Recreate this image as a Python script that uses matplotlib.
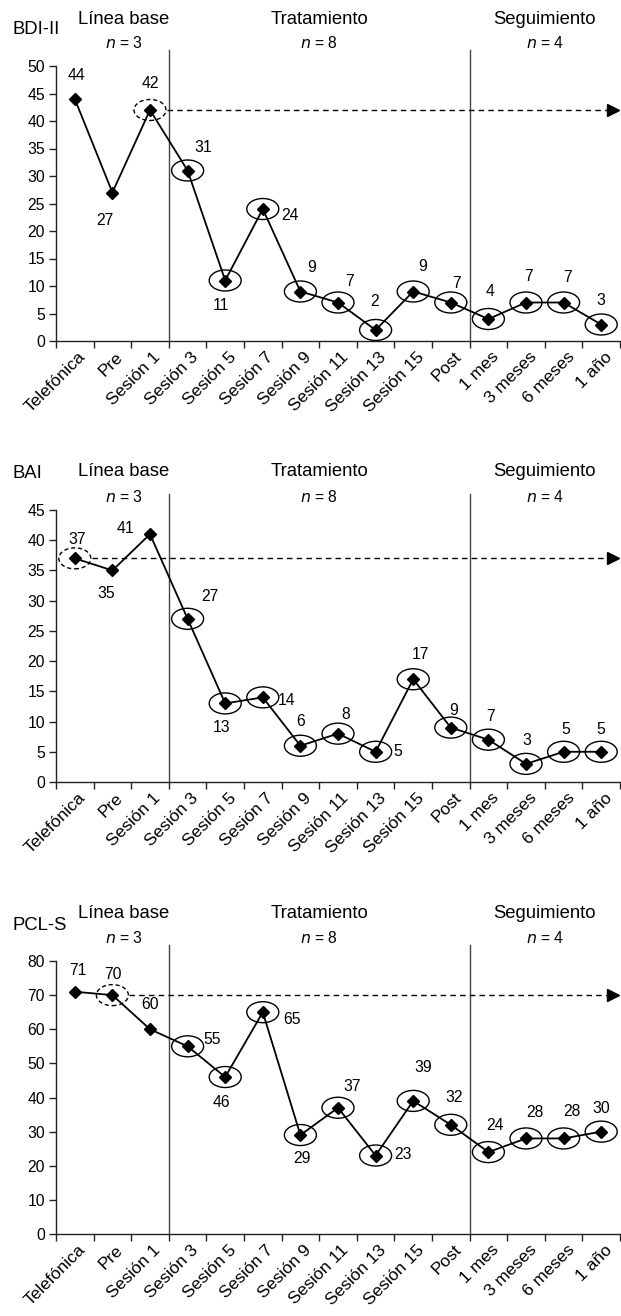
"""
Single-case chart: BDI-II, BAI and PCL-S scores across baseline,
treatment and follow-up phases.
"""

import matplotlib
matplotlib.use("Agg")
import matplotlib.pyplot as plt
import matplotlib.transforms as mtransforms
from matplotlib.patches import Ellipse

plt.rcParams["font.family"] = ["Liberation Sans", "DejaVu Sans"]

# ---- data -------------------------------------------------------------
sessions = ["Telefónica", "Pre", "Sesión 1", "Sesión 3", "Sesión 5", "Sesión 7",
            "Sesión 9", "Sesión 11", "Sesión 13", "Sesión 15", "Post",
            "1 mes", "3 meses", "6 meses", "1 año"]

scales = ["BDI-II", "BAI", "PCL-S"]
bdi = [44, 27, 42, 31, 11, 24, 9, 7, 2, 9, 7, 4, 7, 7, 3]
bai = [37, 35, 41, 27, 13, 14, 6, 8, 5, 17, 9, 7, 3, 5, 5]
pcl = [71, 70, 60, 55, 46, 65, 29, 37, 23, 39, 32, 24, 28, 28, 30]

# index of the baseline reference point (dashed circle + dashed arrow)
baseline_ref = [2, 0, 1]

phases = ["Línea base", "Tratamiento", "Seguimiento"]
phase_n = [3, 8, 4]

# ---- layout -----------------------------------------------------------
W, H = 621, 1316
DPI = 100
AX_LEFT, AX_RIGHT = 56, 620
# (top px, bottom px, ymax, ystep)
panels = [(66, 341, 50, 5), (510, 782, 45, 5), (961, 1234, 80, 10)]
# header rows: (name y, phase y, n y) in px
headers = [(30, 20, 43), (473, 472, 497), (925, 913, 938)]
phase_x = [1.8, 7.0, 13.0]
phase_breaks = [3, 11]

# label offsets in px (dx, dy; dy positive = up)
label_offsets = [
    [(2, 23), (-8, -28), (0, 26), (16, 23), (-4, -25), (27, -6), (11, 24),
     (12, 21), (-1, 28), (9, 25), (6, 19), (2, 27), (3, 26), (4, 25), (0, 24)],
    [(2, 19), (-6, -23), (-25, 6), (22, 22), (-4, -24), (24, -3), (0, 24),
     (8, 19), (22, 0), (7, 25), (3, 17), (2, 23), (1, 23), (2, 22), (0, 22)],
    [(3, 21), (1, 21), (0, 25), (25, 7), (-4, -25), (29, -7), (2, -23),
     (14, 21), (27, 1), (10, 33), (3, 27), (7, 27), (9, 26), (8, 27), (0, 23)],
]

FS_TICK = 11.3
FS_XLAB = 12.5
FS_HEAD = 13.3
PX = 72.0 / DPI  # px -> points

fig = plt.figure(figsize=(W / DPI, H / DPI), dpi=DPI)
fig.patch.set_facecolor("white")

all_values = [bdi, bai, pcl]
x = [i + 0.5 for i in range(len(sessions))]

for k, (name, values) in enumerate(zip(scales, all_values)):
    top, bottom, ymax, ystep = panels[k]
    ax = fig.add_axes([AX_LEFT / W, 1 - bottom / H,
                       (AX_RIGHT - AX_LEFT) / W, (bottom - top) / H])
    ax.set_xlim(0, len(sessions))
    ax.set_ylim(0, ymax)

    for s in ["top", "right"]:
        ax.spines[s].set_visible(False)
    for s in ["left", "bottom"]:
        ax.spines[s].set_color("#222222")
        ax.spines[s].set_linewidth(1.0)

    ax.set_yticks(range(0, ymax + 1, ystep))
    ax.set_xticks(range(len(sessions) + 1))
    ax.set_xticklabels([])
    ax.set_xticks(x, minor=True)
    ax.set_xticklabels(sessions, minor=True, rotation=45, ha="right",
                       rotation_mode="anchor", fontsize=FS_XLAB)
    ax.tick_params(axis="both", which="major", direction="out", length=5,
                   width=1, color="#222222", labelsize=FS_TICK, pad=3)
    ax.tick_params(axis="x", which="minor", length=0, pad=6)
    shift = mtransforms.ScaledTranslation(3 / DPI, 0, fig.dpi_scale_trans)
    for lab in ax.get_xticklabels(minor=True):
        lab.set_transform(lab.get_transform() + shift)

    # phase separators, running a little above the plot area
    ext = ymax * (1 + 16 / (bottom - top))
    for b in phase_breaks:
        ax.plot([b, b], [0, ext], color="#444444", lw=1.0, clip_on=False,
                zorder=1)

    # baseline reference: dashed arrow
    r = baseline_ref[k]
    ref = values[r]
    ax.plot([x[r] + 0.45, 14.82], [ref, ref], color="black", lw=1.0,
            linestyle=(0, (4, 3)), clip_on=False, zorder=2)
    ax.plot([14.82], [ref], marker=">", color="black", ms=8, clip_on=False,
            zorder=3)

    # data line
    ax.plot(x, values, color="black", lw=1.3, marker="D", ms=6,
            markerfacecolor="black", clip_on=False, zorder=4)

    # circles
    for i, v in enumerate(values):
        if i < 3 and i != r:
            continue
        trans = fig.dpi_scale_trans + mtransforms.ScaledTranslation(
            x[i], v, ax.transData)
        ell = Ellipse((0, 0), 0.32, 0.21, transform=trans, fill=False,
                      edgecolor="black", lw=1.0,
                      linestyle=(0, (3, 2)) if i == r else "-",
                      clip_on=False, zorder=5)
        ax.add_patch(ell)

    # value labels
    for i, v in enumerate(values):
        dx, dy = label_offsets[k][i]
        ax.annotate(str(v), xy=(x[i], v), xytext=(dx * PX, dy * PX),
                    textcoords="offset points", ha="center", va="center",
                    fontsize=FS_TICK, color="black", zorder=6)

    # headers
    name_y, phase_y, n_y = headers[k]
    fig.text(13 / W, 1 - name_y / H, name, ha="left", va="center",
             fontsize=FS_HEAD)
    for px_, ph, n in zip(phase_x, phases, phase_n):
        xf = (AX_LEFT + px_ * (AX_RIGHT - AX_LEFT) / len(sessions)) / W
        fig.text(xf, 1 - phase_y / H, ph, ha="center", va="center",
                 fontsize=FS_HEAD)
        fig.text(xf, 1 - n_y / H, f"$n$ = {n}", ha="center", va="center",
                 fontsize=FS_TICK)

fig.savefig("out.png", dpi=DPI, facecolor="white")
